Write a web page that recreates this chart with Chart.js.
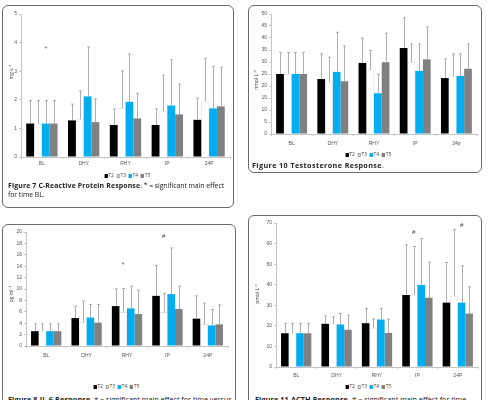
<!DOCTYPE html>
<html>
<head>
<meta charset="utf-8">
<script src="https://cdn.jsdelivr.net/npm/chart.js@4.4.1/dist/chart.umd.min.js"></script>
<style>
  body { margin: 0; width: 489px; height: 400px; background: #fff; position: relative; overflow: hidden; font-family: 'Open Sans', sans-serif; }
  .panel { position: absolute; border: 1px solid #6a6a6a; border-radius: 6px; box-sizing: border-box; }
  canvas { position: absolute; }
  .legend { position: absolute; font-size: 5px; line-height: 6px; color: #444; white-space: nowrap; transform: translateX(-50%); }
  .legend .box { display: inline-block; width: 3.5px; height: 3.5px; margin: 0 0.5px 0 2.5px; vertical-align: -0.5px; box-sizing: border-box; }
  .caption { position: absolute; font-size: 7.2px; line-height: 8.5px; color: #222; white-space: nowrap; }
  .caption b { letter-spacing: 0.15px; }
</style>
</head>
<body>
<div class="panel" style="left:2px;top:5px;width:232px;height:203px"></div>
<div class="panel" style="left:248px;top:5px;width:234px;height:168px"></div>
<div class="panel" style="left:2px;top:224px;width:234px;height:200px"></div>
<div class="panel" style="left:248px;top:215px;width:234px;height:210px"></div>

<canvas id="crp"></canvas>
<canvas id="testo"></canvas>
<canvas id="il6"></canvas>
<canvas id="acth"></canvas>

<div class="legend" id="crpLegend" style="left:126px;top:172px"></div>
<div class="legend" id="testoLegend" style="left:367px;top:151px"></div>
<div class="legend" id="il6Legend" style="left:115px;top:383px"></div>
<div class="legend" id="acthLegend" style="left:367px;top:383px"></div>

<div class="caption" style="left:8px;top:182px;font-size:6.9px;letter-spacing:-0.05px"><b>Figure 7 C-Reactive Protein Response</b>. * = significant main effect<br>for time BL.</div>
<div class="caption" style="left:252px;top:161px"><b style="letter-spacing:0.4px">Figure 10 Testosterone Response</b>.</div>
<div class="caption" style="left:8px;top:394.5px"><b>Figure 8 IL-6 Response</b>. * = significant main effect for time versus</div>
<div class="caption" style="left:255px;top:394.5px"><b>Figure 11 ACTH Response</b>. # = significant main effect for time</div>

<script>
const series = ['T2', 'T3', 'T4', 'T5'];
const seriesColors = ['#000000', '#ffffff', '#00aeef', '#808080'];

// C-reactive protein (mg/L)
const crpCategories = ['BL', 'DHY', 'RHY', 'IP', '24P'];
const crpT2 = [1.17, 1.28, 1.12, 1.12, 1.30];
const crpT3 = [1.17, 1.32, 1.71, 1.59, 1.93];
const crpT4 = [1.17, 2.12, 1.93, 1.80, 1.70];
const crpT5 = [1.17, 1.22, 1.35, 1.49, 1.77];
const crpT2sd = [0.80, 0.57, 0.56, 0.56, 0.76];
const crpT3sd = [0.80, 0.99, 1.30, 1.27, 1.52];
const crpT4sd = [0.80, 1.73, 1.67, 1.60, 1.47];
const crpT5sd = [0.80, 0.81, 0.88, 1.06, 1.37];
const crpMarks = [['BL', 'T4', 3.8, '*']];

// Testosterone (nmol/L)
const testoCategories = ['BL', 'DHY', 'RHY', 'IP', '24p'];
const testoT2 = [25.0, 22.9, 29.6, 35.8, 23.3];
const testoT3 = [25.0, 21.6, 26.6, 29.9, 24.0];
const testoT4 = [25.0, 25.9, 17.0, 26.3, 24.2];
const testoT5 = [25.0, 22.0, 29.9, 31.1, 27.2];
const testoT2sd = [9.0, 10.5, 10.4, 12.6, 8.0];
const testoT3sd = [9.0, 10.4, 8.2, 7.6, 9.4];
const testoT4sd = [9.0, 16.5, 8.0, 11.2, 9.2];
const testoT5sd = [9.0, 14.7, 12.1, 13.5, 10.3];

// IL-6 (pg/ml)
const il6Categories = ['BL', 'DHY', 'RHY', 'IP', '24P'];
const il6T2 = [2.6, 4.9, 7.0, 8.8, 4.8];
const il6T3 = [2.6, 4.2, 5.9, 5.9, 3.8];
const il6T4 = [2.6, 5.0, 6.6, 9.1, 3.6];
const il6T5 = [2.6, 4.1, 5.6, 6.5, 3.8];
const il6T2sd = [1.3, 2.1, 3.0, 5.3, 4.0];
const il6T3sd = [1.3, 3.7, 4.2, 3.3, 3.7];
const il6T4sd = [1.3, 2.3, 3.9, 8.1, 2.8];
const il6T5sd = [1.3, 3.2, 4.2, 4.0, 3.4];
const il6Marks = [['RHY', 'T3', 14.3, '*'], ['IP', 'T3', 19.2, '#']];

// ACTH (pmol/L)
const acthCategories = ['BL', 'DHY', 'RHY', 'IP', '24P'];
const acthT2 = [16.4, 21.0, 21.3, 35.0, 31.3];
const acthT3 = [16.4, 21.0, 18.7, 35.0, 34.4];
const acthT4 = [16.4, 20.7, 23.1, 39.9, 31.3];
const acthT5 = [16.4, 18.1, 16.6, 33.7, 26.0];
const acthT2sd = [4.8, 3.8, 7.2, 24.4, 19.5];
const acthT3sd = [4.8, 3.4, 4.6, 23.6, 32.4];
const acthT4sd = [4.8, 5.3, 5.4, 22.5, 17.9];
const acthT5sd = [4.8, 7.1, 6.7, 17.3, 13.0];
const acthMarks = [['IP', 'T3', 65.6, '#'], ['24P', 'T4', 68.9, '#']];

// one-sided (upper) SD whiskers
const errorBars = {
  id: 'errorBars',
  afterDatasetsDraw(chart) {
    const ctx = chart.ctx;
    const y = chart.scales.y;
    ctx.save();
    ctx.strokeStyle = '#9a9a9a';
    ctx.lineWidth = 0.8;
    chart.data.datasets.forEach((ds, i) => {
      chart.getDatasetMeta(i).data.forEach((bar, j) => {
        const top = y.getPixelForValue(ds.data[j] + ds.sd[j]);
        const x = Math.round(bar.x) + 0.5;
        ctx.beginPath();
        ctx.moveTo(x, bar.y);
        ctx.lineTo(x, top);
        ctx.moveTo(x - 1.5, top);
        ctx.lineTo(x + 1.5, top);
        ctx.stroke();
      });
    });
    ctx.restore();
  }
};

// significance symbols
const marks = {
  id: 'marks',
  afterDatasetsDraw(chart, args, opts) {
    const ctx = chart.ctx;
    ctx.save();
    ctx.fillStyle = '#555';
    ctx.font = '6px "Open Sans", sans-serif';
    ctx.textAlign = 'center';
    ctx.textBaseline = 'middle';
    (opts.items || []).forEach(([cat, s, value, text]) => {
      const bar = chart.getDatasetMeta(series.indexOf(s)).data[chart.data.labels.indexOf(cat)];
      ctx.fillText(text, bar.x, chart.scales.y.getPixelForValue(value));
    });
    ctx.restore();
  }
};

// rotated unit label beside the y axis (not centred in the original)
const unitLabel = {
  id: 'unitLabel',
  afterDraw(chart, args, opts) {
    const ctx = chart.ctx;
    ctx.save();
    ctx.translate(opts.x, opts.y);
    ctx.rotate(-Math.PI / 2);
    ctx.fillStyle = '#444';
    ctx.font = '5px "Open Sans", sans-serif';
    ctx.textAlign = 'center';
    ctx.textBaseline = 'middle';
    ctx.fillText(opts.text, 0, 0);
    ctx.restore();
  }
};

function makeChart(g) {
  const canvas = document.getElementById(g.id);
  const xHeight = 16;
  const left = g.axisLeft - g.yWidth;
  const top = g.plotTop - 6;
  canvas.width = g.plotRight + 2 - left;
  canvas.height = g.plotBottom + xHeight - top;
  canvas.style.left = left + 'px';
  canvas.style.top = top + 'px';

  return new Chart(canvas, {
    type: 'bar',
    data: {
      labels: g.categories,
      datasets: series.map((name, i) => ({
        label: name,
        data: g.means[i],
        sd: g.sds[i],
        backgroundColor: seriesColors[i],
        borderColor: i === 1 ? '#cfcfcf' : seriesColors[i],
        borderWidth: i === 1 ? 0.6 : 0,
        categoryPercentage: 0.75,
        barPercentage: 1
      }))
    },
    options: {
      responsive: false,
      animation: false,
      events: [],
      layout: { padding: { top: 6, right: 2, left: 0, bottom: 0 } },
      plugins: {
        legend: { display: false },
        tooltip: { enabled: false },
        marks: { items: g.marks || [] },
        unitLabel: { text: g.yTitle, x: g.titleX - left, y: g.titleY - top }
      },
      scales: {
        x: {
          grid: { display: true, drawOnChartArea: false, offset: true, tickLength: 2, color: '#c4c4c4' },
          border: { color: '#c4c4c4' },
          ticks: { font: { size: 5 }, color: '#555', padding: g.labelGap, maxRotation: 0 },
          afterFit: s => { s.height = xHeight; }
        },
        y: {
          min: 0,
          max: g.yMax,
          grid: { display: true, drawOnChartArea: false, tickLength: 2, color: '#c4c4c4' },
          border: { color: '#c4c4c4' },
          ticks: { stepSize: g.yStep, font: { size: 5 }, color: '#555', padding: 2 },
          afterFit: s => { s.width = g.yWidth; }
        }
      }
    },
    plugins: [errorBars, marks, unitLabel]
  });
}

function fillLegend(id) {
  document.getElementById(id).innerHTML = series.map((s, i) =>
    `<span class="box" style="background:${seriesColors[i]};border:0.5px solid ${i === 1 ? '#999' : seriesColors[i]}"></span>${s}`
  ).join('');
}

makeChart({
  id: 'crp', categories: crpCategories,
  means: [crpT2, crpT3, crpT4, crpT5], sds: [crpT2sd, crpT3sd, crpT4sd, crpT5sd],
  marks: crpMarks, yMax: 5, yStep: 1, yTitle: 'mg·L⁻¹',
  axisLeft: 21, yWidth: 18, titleX: 12, titleY: 72, plotTop: 14, plotBottom: 157, plotRight: 230, labelGap: 2
});
makeChart({
  id: 'testo', categories: testoCategories,
  means: [testoT2, testoT3, testoT4, testoT5], sds: [testoT2sd, testoT3sd, testoT4sd, testoT5sd],
  yMax: 50, yStep: 5, yTitle: 'nmol·L⁻¹',
  axisLeft: 271, yWidth: 22, titleX: 257, titleY: 80, plotTop: 14, plotBottom: 134, plotRight: 477, labelGap: 5
});
makeChart({
  id: 'il6', categories: il6Categories,
  means: [il6T2, il6T3, il6T4, il6T5], sds: [il6T2sd, il6T3sd, il6T4sd, il6T5sd],
  marks: il6Marks, yMax: 20, yStep: 2, yTitle: 'pg·ml⁻¹',
  axisLeft: 26, yWidth: 23, titleX: 12, titleY: 294, plotTop: 232, plotBottom: 346, plotRight: 228, labelGap: 5
});
makeChart({
  id: 'acth', categories: acthCategories,
  means: [acthT2, acthT3, acthT4, acthT5], sds: [acthT2sd, acthT3sd, acthT4sd, acthT5sd],
  marks: acthMarks, yMax: 70, yStep: 10, yTitle: 'pmol·L⁻¹',
  axisLeft: 276, yWidth: 27, titleX: 258, titleY: 294, plotTop: 223, plotBottom: 367, plotRight: 478, labelGap: 4
});

['crpLegend', 'testoLegend', 'il6Legend', 'acthLegend'].forEach(fillLegend);
</script>
</body>
</html>
